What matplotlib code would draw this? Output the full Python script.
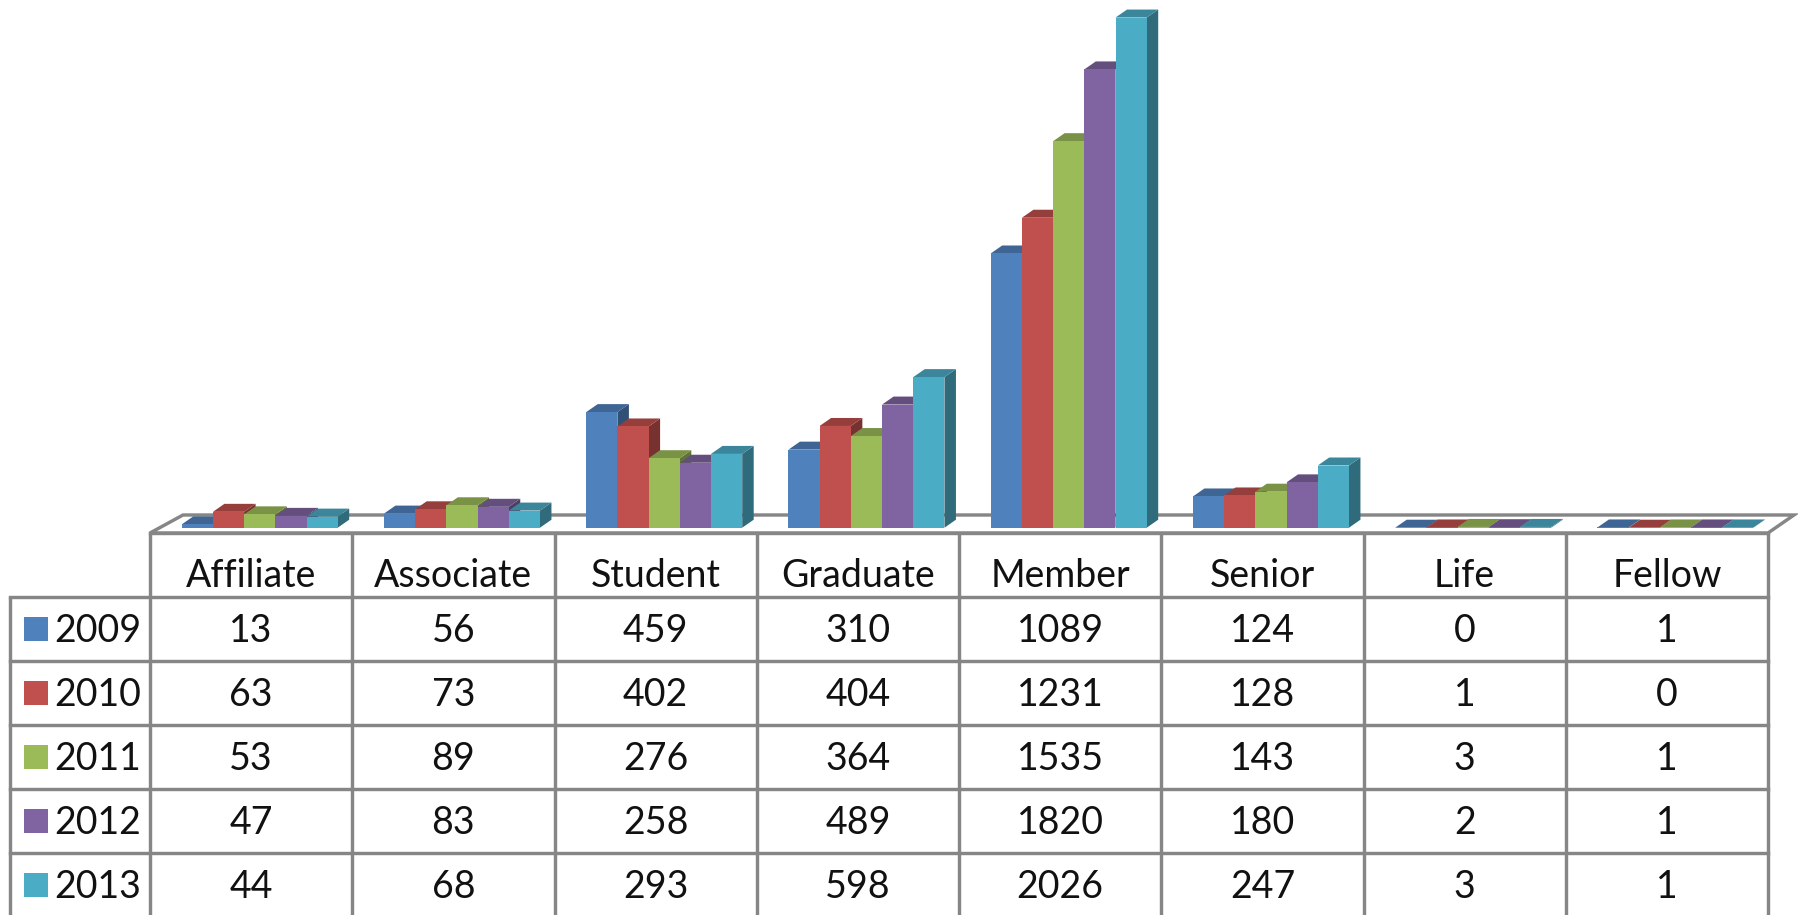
import matplotlib
matplotlib.use("Agg")
import matplotlib.pyplot as plt
from matplotlib.colors import to_rgb
from matplotlib.patches import Polygon, Rectangle

plt.rcParams["font.family"] = ["Lato", "DejaVu Sans"]

categories = ["Affiliate", "Associate", "Student", "Graduate", "Member", "Senior", "Life", "Fellow"]
years = ["2009", "2010", "2011", "2012", "2013"]
v2009 = [13, 56, 459, 310, 1089, 124, 0, 1]
v2010 = [63, 73, 402, 404, 1231, 128, 1, 0]
v2011 = [53, 89, 276, 364, 1535, 143, 3, 1]
v2012 = [47, 83, 258, 489, 1820, 180, 2, 1]
v2013 = [44, 68, 293, 598, 2026, 247, 3, 1]
series = [v2009, v2010, v2011, v2012, v2013]
colors = ["#4f81bd", "#c0504d", "#9bbb59", "#8064a2", "#4bacc6"]

W, H = 1798, 915
GRID = "#868686"
TXT = "#111111"
FS = 27


def shade(c, k):
    return tuple(v * k for v in to_rgb(c))


fig = plt.figure(figsize=(W / 100, H / 100), dpi=100, facecolor="white")

# pixel axes for the frame and the data table
ax_t = fig.add_axes([0, 0, 1, 1])
ax_t.set_xlim(0, W)
ax_t.set_ylim(H, 0)
ax_t.axis("off")

col_x = [150 + 202.25 * i for i in range(len(categories) + 1)]
row_y = [533, 597, 661, 725, 789, 853, 917]
left = 10
base_y = 527.7
lw = 3.4 * 0.72

# floor
ax_t.add_patch(Polygon([(col_x[0], row_y[0]), (col_x[0] + 33, 515), (W - 4, 515), (col_x[-1], row_y[0])],
                       closed=True, fc="white", ec=GRID, lw=lw, zorder=1))

for x in col_x:
    ax_t.plot([x, x], [row_y[0], H], color=GRID, lw=lw, zorder=1, solid_capstyle="butt")
ax_t.plot([left, left], [row_y[1], H], color=GRID, lw=lw, zorder=1, solid_capstyle="butt")
ax_t.plot([col_x[0], col_x[-1]], [row_y[0], row_y[0]], color=GRID, lw=lw, zorder=1)
for y in row_y[1:-1]:
    ax_t.plot([left, col_x[-1]], [y, y], color=GRID, lw=lw, zorder=1)

for i, name in enumerate(categories):
    xc = (col_x[i] + col_x[i + 1]) / 2
    ax_t.text(xc, 576, name, ha="center", va="center", fontsize=FS, color=TXT)
    for r, vals in enumerate(series):
        yc = (row_y[r + 1] + row_y[r + 2]) / 2 + 2
        ax_t.text(xc, yc, str(vals[i]), ha="center", va="center", fontsize=FS, color=TXT)

for r, yr in enumerate(years):
    yc = (row_y[r + 1] + row_y[r + 2]) / 2
    ax_t.add_patch(Rectangle((24, yc - 12), 24, 24, fc=colors[r], ec="none"))
    ax_t.text(54, yc + 2, yr, ha="left", va="center", fontsize=FS, color=TXT)

# bars in data coordinates, the axes is placed so value 0 sits on the floor
ax_b = fig.add_axes([col_x[0] / W, 1 - base_y / H, (col_x[-1] - col_x[0]) / W, base_y / H])
ax_b.patch.set_alpha(0)
ax_b.axis("off")
ax_b.set_xlim(0, len(categories))
ax_b.set_ylim(0, base_y / 0.2518)

bar_w = 31.2 / 202.25
start = 31.7 / 202.25
dx = 11.5 / 202.25
dy = 8.0 / 0.2518

for s, vals in enumerate(series):
    c = colors[s]
    for i, v in enumerate(vals):
        x0 = i + start + s * bar_w
        x1 = x0 + bar_w
        ax_b.add_patch(Polygon([(x1, 0), (x1 + dx, dy), (x1 + dx, v + dy), (x1, v)],
                               fc=shade(c, 0.62), ec="none", zorder=3 + s, clip_on=False))
        ax_b.add_patch(Polygon([(x0, v), (x0 + dx, v + dy), (x1 + dx, v + dy), (x1, v)],
                               fc=shade(c, 0.78), ec="none", zorder=3 + s, clip_on=False))
        ax_b.bar(x0, v, width=bar_w, align="edge", color=c, zorder=3 + s, clip_on=False)

fig.savefig("out.png", dpi=100, facecolor="white")
